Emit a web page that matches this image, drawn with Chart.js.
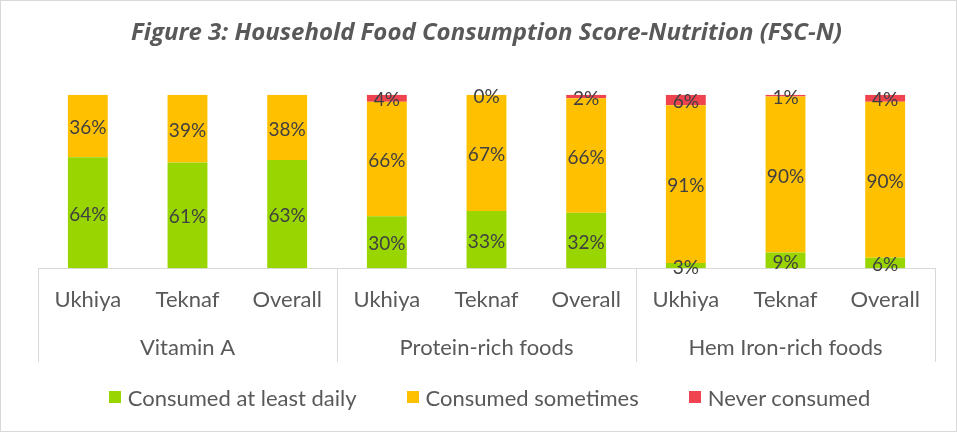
<!DOCTYPE html>
<html>
<head>
<meta charset="utf-8">
<script src="https://cdn.jsdelivr.net/npm/chart.js@4"></script>
<style>
  html, body { margin: 0; padding: 0; background: #fff; }
  #wrap { position: relative; width: 955px; height: 430px; border: 1px solid #d9d9d9; }
  #legend {
    position: absolute; left: 0; right: 0; top: 382px; height: 28px;
    display: flex; justify-content: center; align-items: center; gap: 50px;
    padding-left: 22px; box-sizing: border-box;
    font: 22px Lato, "Open Sans", sans-serif; color: #595959;
  }
  #legend span.item { display: flex; align-items: center; gap: 7px; white-space: nowrap; }
  #legend span.box { display: inline-block; width: 12px; height: 12px; }
</style>
</head>
<body>
<div id="wrap">
  <canvas id="fscChart" width="955" height="430"></canvas>
  <div id="legend"></div>
</div>
<script>
const sites = ['Ukhiya', 'Teknaf', 'Overall', 'Ukhiya', 'Teknaf', 'Overall', 'Ukhiya', 'Teknaf', 'Overall'];
const foodGroups = ['Vitamin A', 'Protein-rich foods', 'Hem Iron-rich foods'];
const dailyPct = [64, 61, 63, 30, 33, 32, 3, 9, 6];
const sometimesPct = [36, 39, 38, 66, 67, 66, 91, 90, 90];
const neverPct = [null, null, null, 4, 0, 2, 6, 1, 4];

// Excel-style 100% stacking
const totals = sites.map((_, i) => (dailyPct[i] || 0) + (sometimesPct[i] || 0) + (neverPct[i] || 0));
const share = arr => arr.map((v, i) => v === null ? null : v / totals[i] * 100);

const FONT = 'Lato, "Open Sans", sans-serif';

const segmentLabels = {
  id: 'segmentLabels',
  afterDatasetsDraw(chart) {
    const ctx = chart.ctx;
    ctx.save();
    ctx.font = '19px ' + FONT;
    ctx.fillStyle = '#404040';
    ctx.textAlign = 'center';
    ctx.textBaseline = 'middle';
    chart.data.datasets.forEach((ds, di) => {
      chart.getDatasetMeta(di).data.forEach((bar, i) => {
        const raw = ds.rawValues[i];
        if (raw === null) return;
        ctx.fillText(raw + '%', bar.x, (bar.y + bar.base) / 2 + 2);
      });
    });
    ctx.restore();
  }
};

// category separators under the axis (Excel multi-level labels)
const groupLines = {
  id: 'groupLines',
  afterDraw(chart) {
    const x = chart.scales.x, x2 = chart.scales.x2;
    const step = x.getPixelForTick(1) - x.getPixelForTick(0);
    const ctx = chart.ctx;
    ctx.save();
    ctx.strokeStyle = '#d9d9d9';
    ctx.lineWidth = 1;
    [0, 3, 6, 9].forEach(i => {
      const px = Math.round(x.getPixelForTick(0) + step * (i - 0.5)) + 0.5;
      ctx.beginPath();
      ctx.moveTo(px, chart.chartArea.bottom);
      ctx.lineTo(px, x2.bottom - 1);
      ctx.stroke();
    });
    ctx.restore();
  }
};

const chart = new Chart(document.getElementById('fscChart'), {
  type: 'bar',
  data: {
    labels: sites,
    datasets: [
      { label: 'Consumed at least daily', data: share(dailyPct), rawValues: dailyPct, backgroundColor: '#99d500' },
      { label: 'Consumed sometimes', data: share(sometimesPct), rawValues: sometimesPct, backgroundColor: '#ffc000' },
      { label: 'Never consumed', data: share(neverPct), rawValues: neverPct, backgroundColor: '#ef4350' }
    ]
  },
  options: {
    responsive: false,
    animation: false,
    layout: { padding: { left: 37, right: 21, top: 0, bottom: 68 } },
    datasets: { bar: { categoryPercentage: 1, barPercentage: 0.4 } },
    plugins: {
      tooltip: { enabled: false },
      legend: { display: false },
      title: {
        display: true,
        text: 'Figure 3: Household Food Consumption Score-Nutrition (FSC-N)',
        color: '#595959',
        font: { family: '"Open Sans", sans-serif', size: 24, weight: 'bold', style: 'italic' },
        padding: { top: 18, bottom: 47 }
      }
    },
    scales: {
      y: { stacked: true, min: 0, max: 100, display: false },
      x: {
        stacked: true,
        grid: { display: false, drawTicks: false },
        border: { display: true, color: '#d9d9d9' },
        ticks: { color: '#595959', font: { family: FONT, size: 22 }, padding: 19, maxRotation: 0 }
      },
      x2: {
        type: 'category',
        position: 'bottom',
        labels: foodGroups,
        offset: true,
        grid: { display: false, drawTicks: false },
        border: { display: false },
        ticks: { color: '#595959', font: { family: FONT, size: 22 }, padding: 2, maxRotation: 0 }
      }
    }
  },
  plugins: [segmentLabels, groupLines]
});

// HTML legend built from the datasets
const legendEl = document.getElementById('legend');
chart.data.datasets.forEach(ds => {
  const item = document.createElement('span');
  item.className = 'item';
  const box = document.createElement('span');
  box.className = 'box';
  box.style.background = ds.backgroundColor;
  item.appendChild(box);
  item.appendChild(document.createTextNode(ds.label));
  legendEl.appendChild(item);
});
</script>
</body>
</html>
